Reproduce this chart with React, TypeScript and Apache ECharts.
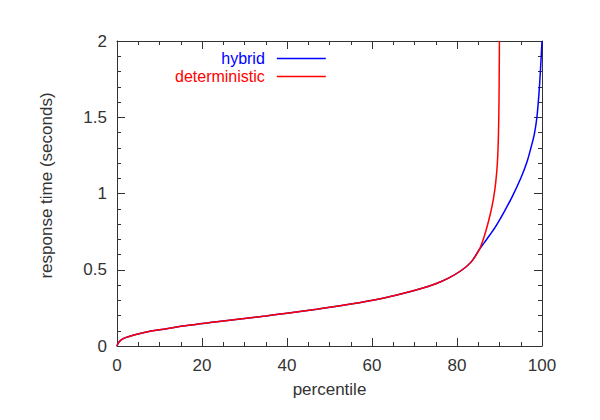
import React, { useEffect, useRef } from "react";
import * as echarts from "echarts";

const deterministicX = [0, 0.3, 1, 2, 4, 7, 11, 16, 23, 30, 35, 40, 47, 55, 62, 67, 72, 75, 78, 81, 83.3, 85.2, 86.3, 87.2, 88.0, 88.6, 89.1, 89.5, 89.75, 89.88, 89.95, 89.98];
const deterministicY = [0, 0.02, 0.04, 0.055, 0.072, 0.092, 0.11, 0.133, 0.157, 0.18, 0.197, 0.215, 0.241, 0.275, 0.31, 0.342, 0.38, 0.408, 0.445, 0.495, 0.55, 0.63, 0.71, 0.795, 0.885, 0.97, 1.07, 1.2, 1.38, 1.6, 1.85, 2.0];

const hybridX = [0, 0.3, 1, 2, 4, 7, 11, 16, 23, 30, 35, 40, 47, 55, 62, 67, 72, 75, 78, 81, 83.3, 85.2, 87, 89, 91, 93, 95, 96.5, 97.4, 98.2, 98.8, 99.3, 99.7, 100];
const hybridY = [0, 0.02, 0.04, 0.055, 0.072, 0.092, 0.11, 0.133, 0.157, 0.18, 0.197, 0.215, 0.241, 0.275, 0.31, 0.342, 0.38, 0.408, 0.445, 0.495, 0.55, 0.63, 0.7, 0.78, 0.875, 0.98, 1.1, 1.21, 1.3, 1.39, 1.5, 1.66, 1.84, 2.0];

const xTicks = [0, 20, 40, 60, 80, 100];
const yTicks = [0, 0.5, 1, 1.5, 2];

const FONT = "Liberation Sans";
const AXIS_COLOR = "#333";
const TEXT_COLOR = "#333";
const FS = 17;

export default function App() {
  const ref = useRef<HTMLDivElement>(null);
  useEffect(() => {
    if (!ref.current) return;
    const chart = echarts.init(ref.current, undefined, { renderer: "svg" });
    const zip = (xs: number[], ys: number[]) => xs.map((x, i) => [x, ys[i]]);
    const xMin = xTicks[0];
    const xMax = xTicks[xTicks.length - 1];
    const xInt = xTicks[1] - xTicks[0];
    const yMin = yTicks[0];
    const yMax = yTicks[yTicks.length - 1];
    const yInt = yTicks[1] - yTicks[0];
    const baseAxis = {
      type: "value" as const,
      axisLine: { show: true, onZero: false, lineStyle: { color: AXIS_COLOR, width: 1 } },
      axisTick: { show: true, inside: true, length: 8, lineStyle: { color: AXIS_COLOR } },
      minorTick: { show: true, length: 4, lineStyle: { color: AXIS_COLOR } },
      splitLine: { show: false },
      minorSplitLine: { show: false },
    };
    chart.setOption({
      animation: false,
      backgroundColor: "#fff",
      grid: { left: 117, right: 58, top: 41, bottom: 74, containLabel: false },
      legend: {
        orient: "vertical",
        align: "right",
        left: 170,
        top: 45,
        itemGap: 1,
        itemWidth: 49,
        itemHeight: 17,
        icon: "path://M0,8 L49,8 L49,9.5 L0,9.5 Z",
        textStyle: { fontFamily: FONT, fontSize: 16, lineHeight: 17, padding: [0, 7, 0, 0] },
        data: [
          { name: "hybrid", textStyle: { color: "#0000ff" } },
          { name: "deterministic", textStyle: { color: "#ff0000" } },
        ],
      },
      xAxis: [
        {
          ...baseAxis,
          position: "bottom",
          min: xMin,
          max: xMax,
          interval: xInt,
          minorTick: { ...baseAxis.minorTick, splitNumber: 4 },
          axisLabel: { color: TEXT_COLOR, fontFamily: FONT, fontSize: FS, margin: 11 },
          name: "percentile",
          nameLocation: "middle",
          nameGap: 35,
          nameTextStyle: { color: TEXT_COLOR, fontFamily: FONT, fontSize: FS },
        },
        {
          ...baseAxis,
          position: "top",
          min: xMin,
          max: xMax,
          interval: xInt,
          minorTick: { ...baseAxis.minorTick, splitNumber: 4 },
          axisLabel: { show: false },
        },
      ],
      yAxis: [
        {
          ...baseAxis,
          position: "left",
          min: yMin,
          max: yMax,
          interval: yInt,
          minorTick: { ...baseAxis.minorTick, splitNumber: 5 },
          axisLabel: { color: TEXT_COLOR, fontFamily: FONT, fontSize: FS, margin: 10 },
          name: "response time (seconds)",
          nameLocation: "middle",
          nameGap: 62,
          nameTextStyle: { color: TEXT_COLOR, fontFamily: FONT, fontSize: FS, padding: [0, 0, 0, 16] },
        },
        {
          ...baseAxis,
          position: "right",
          min: yMin,
          max: yMax,
          interval: yInt,
          minorTick: { ...baseAxis.minorTick, splitNumber: 5 },
          axisLabel: { show: false },
        },
      ],
      series: [
        {
          name: "hybrid",
          type: "line",
          data: zip(hybridX, hybridY),
          smooth: 0.3,
          showSymbol: false,
          symbol: "none",
          clip: true,
          lineStyle: { color: "#0000ff", width: 1.5 },
          itemStyle: { color: "#0000ff" },
        },
        {
          name: "deterministic",
          type: "line",
          data: zip(deterministicX, deterministicY),
          smooth: 0.3,
          showSymbol: false,
          symbol: "none",
          clip: true,
          lineStyle: { color: "#ff0000", width: 1.5 },
          itemStyle: { color: "#ff0000" },
        },
      ],
    });
    return () => chart.dispose();
  }, []);
  return <div ref={ref} style={{ position: "fixed", left: 0, top: 0, width: 600, height: 420 }} />;
}
